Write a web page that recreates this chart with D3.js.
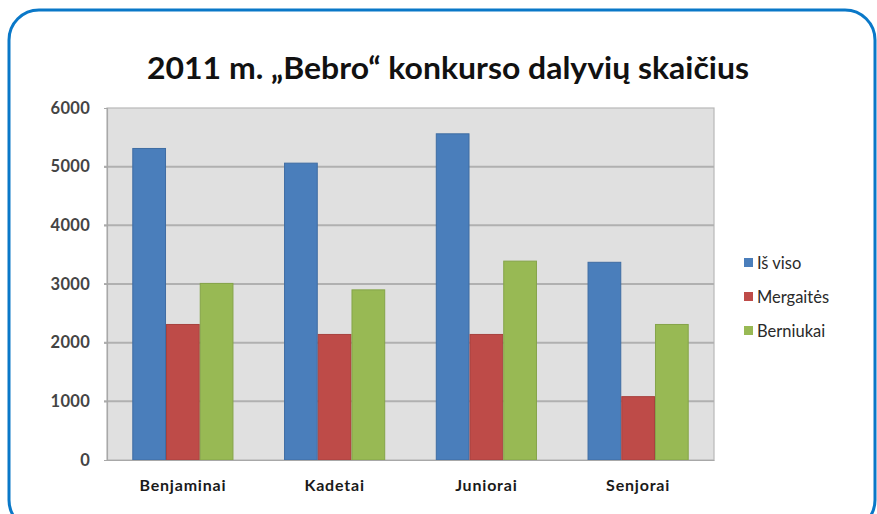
<!DOCTYPE html>
<html><head><meta charset="utf-8">
<script src="https://cdn.jsdelivr.net/npm/d3@7"></script>
<style>body{margin:0;background:#fff}svg{display:block}</style>
</head><body>
<script>
const categories = ["Benjaminai", "Kadetai", "Juniorai", "Senjorai"];
const seriesNames = ["Iš viso", "Mergaitės", "Berniukai"];
const isViso = [5310, 5060, 5560, 3370];
const mergaites = [2310, 2140, 2140, 1080];
const berniukai = [3010, 2900, 3390, 2310];
const yTicks = [0, 1000, 2000, 3000, 4000, 5000, 6000];
const colors = ["#4a7ebb", "#be4b48", "#98b954"];
const strokes = ["#3f6da3", "#a8413e", "#85a449"];
const title = "2011 m. „Bebro“ konkurso dalyvių skaičius";

const series = [isViso, mergaites, berniukai];
const W = 877, H = 514;
const svg = d3.select("body").append("svg").attr("width", W).attr("height", H);

// frame
svg.append("rect").attr("x", 9).attr("y", 10).attr("width", 866).attr("height", 520)
  .attr("rx", 30).attr("ry", 30).attr("fill", "#fff").attr("stroke", "#0a78c8").attr("stroke-width", 3);

const pL = 107, pR = 714, pT = 108, pB = 460;
const x = d3.scaleBand().domain(categories).range([pL, pR]).paddingInner(1/3).paddingOuter(1/6);
const xs = d3.scaleBand().domain(d3.range(series.length)).range([0, x.bandwidth()]);
const y = d3.scaleLinear().domain([0, 6000]).range([pB, pT]);

// plot background
svg.append("rect").attr("x", pL).attr("y", pT).attr("width", pR - pL).attr("height", pB - pT)
  .attr("fill", "#e0e0e0").attr("stroke", "#b8b8b8").attr("stroke-width", 1.2);

// gridlines
svg.append("g").selectAll("line").data(yTicks.filter(t => t > 0 && t < 6000)).join("line")
  .attr("x1", pL - 3).attr("x2", pR).attr("y1", d => y(d)).attr("y2", d => y(d))
  .attr("stroke", "#b0b0b0").attr("stroke-width", 2);

// y axis
const yAxis = d3.axisLeft(y).tickValues(yTicks).tickSize(3).tickPadding(14).tickFormat(d3.format("d"));
const gy = svg.append("g").attr("transform", `translate(${pL},0)`).call(yAxis);
gy.select(".domain").attr("stroke", "#a8a8a8").attr("stroke-width", 1.2);
gy.selectAll(".tick line").attr("stroke", "#a8a8a8");
gy.selectAll("text").attr("font-family", "Lato, 'Open Sans', sans-serif").attr("font-size", 16.5)
  .attr("font-weight", "bold").attr("fill", "#444").attr("letter-spacing", 0.3);

// bars
const g = svg.append("g");
categories.forEach((c, i) => {
  series.forEach((s, j) => {
    g.append("rect")
      .attr("x", x(c) + xs(j) + 0.5).attr("y", y(s[i]))
      .attr("width", xs.bandwidth() - 1).attr("height", y(0) - y(s[i]))
      .attr("fill", colors[j]).attr("stroke", strokes[j]).attr("stroke-width", 1);
  });
});

// x axis
const xAxis = d3.axisBottom(x).tickSize(0).tickPadding(20);
const gx = svg.append("g").attr("transform", `translate(0,${pB})`).call(xAxis);
gx.select(".domain").attr("stroke", "#a8a8a8").attr("stroke-width", 1.2);
gx.selectAll("text").attr("font-family", "Lato, 'Open Sans', sans-serif").attr("font-size", 16)
  .attr("font-weight", "bold").attr("fill", "#1a1a1a").attr("letter-spacing", 0.8);

// title
svg.append("text").attr("x", 448).attr("y", 79).attr("text-anchor", "middle")
  .attr("font-family", "Lato, 'Open Sans', sans-serif").attr("font-weight", "bold").attr("font-size", 31)
  .attr("fill", "#111").attr("textLength", 602).attr("lengthAdjust", "spacingAndGlyphs").text(title);

// legend
const lg = svg.append("g");
seriesNames.forEach((n, j) => {
  const ly = 263 + j * 34;
  lg.append("rect").attr("x", 744).attr("y", ly - 5).attr("width", 9).attr("height", 9).attr("fill", colors[j]);
  lg.append("text").attr("x", 757).attr("y", ly + 6).attr("font-family", "Lato, 'Open Sans', sans-serif")
    .attr("font-size", 16.5).attr("fill", "#2a2a2a").text(n);
});
</script>
</body></html>
